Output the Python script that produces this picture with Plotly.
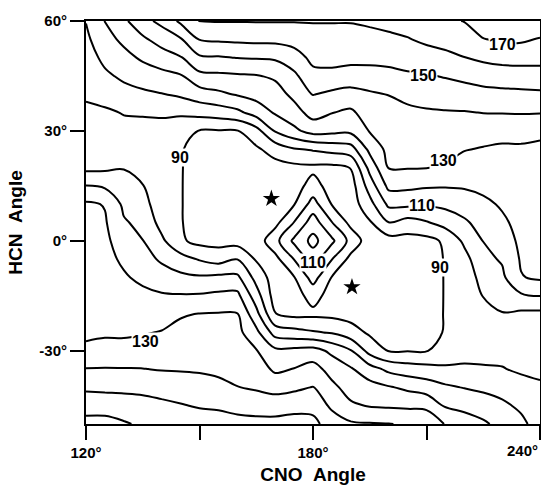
import plotly.graph_objects as go

# CNO angle (x, degrees) and HCN angle (y, degrees) grid
cno_angles = [120, 125, 130, 135, 140, 145, 150, 155, 160, 165, 170, 175, 180,
              185, 190, 195, 200, 205, 210, 215, 220, 225, 230, 235, 240]
hcn_angles = [-50, -45, -40, -35, -30, -25, -20, -15, -10, -5, 0,
              5, 10, 15, 20, 25, 30, 35, 40, 45, 50, 55, 60]

# energy values, one row per HCN angle (bottom to top)
row_m50 = [163.2, 163.7, 161, 158.5, 157, 155.5, 155.5, 154.1, 153, 152.7, 152.5, 152.9, 152.4, 145.8, 141.4, 140.7, 140.3, 139.1, 138.5, 129.3, 125.2, 121.6, 116.9, 112.4, 105.5]
row_m45 = [156, 155.4, 155, 154.2, 152.4, 150.7, 149.1, 148.6, 147.2, 146.3, 146.3, 147.6, 147.3, 137.9, 131.5, 129.4, 128.7, 128.1, 127.3, 119, 117.1, 114.8, 111.9, 108.2, 103]
row_m40 = [148.3, 147.9, 147.5, 146.9, 145.7, 144.7, 143.6, 142.1, 140.2, 138.7, 136.2, 137.8, 140.4, 132.4, 126, 123.5, 120.9, 118, 115.3, 111.5, 109.6, 108.1, 106.4, 103.7, 101]
row_m35 = [140.4, 140.6, 140.4, 140.2, 139.5, 139.3, 139, 138.3, 137.7, 134.7, 128.3, 130.3, 133.7, 126.2, 121, 114.2, 107.6, 104.8, 103.3, 102.3, 101.7, 101.2, 100.5, 98.5, 98.5]
row_m30 = [131.2, 132.4, 133.1, 134.4, 134.8, 135.9, 136.1, 135.7, 135.3, 130.6, 122.3, 122.9, 123.9, 117.7, 110.7, 96.3, 89.5, 89.5, 89.8, 91, 96, 96, 97, 95, 96]
row_m25 = [128.9, 129, 128.6, 129.3, 130.5, 132.5, 133.2, 133.1, 132.9, 122.7, 105.7, 103.3, 101, 99.2, 93.9, 88.5, 86.5, 86.5, 87.5, 90.5, 93, 93, 94, 93.5, 95]
row_m20 = [127.6, 127.6, 126.2, 125.9, 125.8, 129.2, 130.3, 130.6, 130.5, 113.3, 90.3, 87.5, 88, 87.5, 86.5, 85, 85, 85.5, 86.5, 90.5, 92, 94.5, 99.5, 98, 97.5]
row_m15 = [126.3, 126.1, 123.7, 122.6, 121.1, 120.8, 121.1, 122.2, 122.6, 104.5, 85.5, 86.5, 93.2, 86.5, 83, 83.5, 84.5, 85, 86, 90.5, 92, 100.5, 104, 108.5, 110.2]
row_m10 = [125, 124.7, 121.2, 117.7, 114.6, 112.3, 111.3, 112.3, 112.1, 96.5, 85, 89.5, 104.1, 89.5, 81, 83, 84.5, 85, 86, 90.5, 93.5, 104, 108, 119.5, 121.5]
row_m05 = [123.6, 123.2, 118.2, 113.8, 108.5, 103.9, 99.2, 96, 99.8, 89, 87, 100.3, 115.1, 100.3, 87, 84, 85.5, 86, 86.5, 90.5, 96.5, 107.5, 111, 121, 122.5]
row_000 = [123, 122, 115.3, 110.2, 102, 91.5, 87, 86.5, 86, 84.5, 96.7, 112.1, 123, 112.1, 96.7, 84.5, 86, 86.5, 87, 91.5, 102, 110.2, 115.3, 122, 123]
row_p05 = [122.5, 121, 111, 107.5, 96.5, 90.5, 86.5, 86, 85.5, 84, 87, 100.3, 115.1, 100.3, 87, 89, 99.8, 96, 99.2, 103.9, 108.5, 113.8, 118.2, 123.2, 123.6]
row_p10 = [121.5, 119.5, 108, 104, 93.5, 90.5, 86, 85, 84.5, 83, 81, 89.5, 104.1, 89.5, 85, 96.5, 112.1, 112.3, 111.3, 112.3, 114.6, 117.7, 121.2, 124.7, 125]
row_p15 = [110.2, 108.5, 104, 100.5, 92, 90.5, 86, 85, 84.5, 83.5, 83, 86.5, 93.2, 86.5, 85.5, 104.5, 122.6, 122.2, 121.1, 120.8, 121.1, 122.6, 123.7, 126.1, 126.3]
row_p20 = [97.5, 98, 99.5, 94.5, 92, 90.5, 86.5, 85.5, 85, 85, 86.5, 87.5, 88, 87.5, 90.3, 113.3, 130.5, 130.6, 130.3, 129.2, 125.8, 125.9, 126.2, 127.6, 127.6]
row_p25 = [95, 93.5, 94, 93, 93, 90.5, 87.5, 86.5, 86.5, 88.5, 93.9, 99.2, 101, 103.3, 105.7, 122.7, 132.9, 133.1, 133.2, 132.5, 130.5, 129.3, 128.6, 129, 128.9]
row_p30 = [96, 95, 97, 96, 96, 91, 89.8, 89.5, 89.5, 96.3, 110.7, 117.7, 123.9, 122.9, 122.3, 130.6, 135.3, 135.7, 136.1, 135.9, 134.8, 134.4, 133.1, 132.4, 131.2]
row_p35 = [98.5, 98.5, 100.5, 101.2, 101.7, 102.3, 103.3, 104.8, 107.6, 114.2, 121, 126.2, 133.7, 130.3, 128.3, 134.7, 137.7, 138.3, 139, 139.3, 139.5, 140.2, 140.4, 140.6, 140.4]
row_p40 = [101, 103.7, 106.4, 108.1, 109.6, 111.5, 115.3, 118, 120.9, 123.5, 126, 132.4, 140.4, 137.8, 136.2, 138.7, 140.2, 142.1, 143.6, 144.7, 145.7, 146.9, 147.5, 147.9, 148.3]
row_p45 = [103, 108.2, 111.9, 114.8, 117.1, 119, 127.3, 128.1, 128.7, 129.4, 131.5, 137.9, 147.3, 147.6, 146.3, 146.3, 147.2, 148.6, 149.1, 150.7, 152.4, 154.2, 155, 155.4, 156]
row_p50 = [105.5, 112.4, 116.9, 121.6, 125.2, 129.3, 138.5, 139.1, 140.3, 140.7, 141.4, 145.8, 152.4, 152.9, 152.5, 152.7, 153, 154.1, 155.5, 157.3, 159.8, 161.9, 163.4, 163.7, 163.2]
row_p55 = [108, 116.4, 122.2, 128.2, 134.2, 139, 150.5, 151.5, 152, 152.6, 152.6, 153.7, 156.4, 156.6, 156.2, 157, 157.9, 159.4, 162, 163.8, 165, 169.6, 171.5, 171.5, 169.3]
row_p60 = [110.3, 120.3, 128, 137, 142.5, 152, 160.5, 160.5, 160.5, 160.5, 160.5, 160.5, 160.5, 160.5, 160.5, 161.5, 163, 164.5, 167.5, 168.5, 170.3, 176, 178, 178, 178]

energy = [row_m50, row_m45, row_m40, row_m35, row_m30, row_m25, row_m20, row_m15,
          row_m10, row_m05, row_000, row_p05, row_p10, row_p15, row_p20, row_p25,
          row_p30, row_p35, row_p40, row_p45, row_p50, row_p55, row_p60]

# contour labels
label_text = ["90", "90", "110", "110", "130", "130", "150", "170"]
label_x = [144.8, 213.6, 180.0, 208.8, 214.4, 135.6, 209.3, 230.2]
label_y = [22.7, -7.4, -6.0, 9.6, 21.9, -27.4, 45.2, 53.7]

# starred minima
star_x = [169.0, 190.3]
star_y = [11.5, -12.6]

# ticks
x_tick_vals = [120, 150, 180, 210, 240]
x_tick_text = ["120°", "", "180°", "", "240°"]
y_tick_vals = [60, 30, 0, -30]
y_tick_text = ["60°", "30°", "0°", "-30°"]

x_title = "CNO\u00a0\u00a0Angle"
y_title = "HCN\u00a0\u00a0Angle"

FONT = "Liberation Sans"

fig = go.Figure()
fig.add_trace(go.Contour(
    x=cno_angles, y=hcn_angles, z=energy,
    contours=dict(coloring="lines", start=90, end=170, size=10, showlabels=False),
    line=dict(width=2, smoothing=1),
    colorscale=[[0, "black"], [1, "black"]],
    showscale=False, hoverinfo="skip",
))
fig.add_trace(go.Scatter(
    x=star_x, y=star_y, mode="markers",
    marker=dict(symbol="star", size=13, color="black"),
    hoverinfo="skip", showlegend=False,
))

for t, lx, ly in zip(label_text, label_x, label_y):
    fig.add_annotation(x=lx, y=ly, text="<b>" + t + "</b>", showarrow=False,
                       font=dict(family=FONT, size=16, color="black"),
                       bgcolor="white", borderpad=0)

# last x tick label placed right-aligned so it stays inside the page
fig.add_annotation(x=1, xref="paper", y=0, yref="paper",
                   text="<b>" + x_tick_text[-1] + "</b>",
                   showarrow=False, xanchor="right", yanchor="top", yshift=-16,
                   font=dict(family=FONT, size=15, color="black"))

fig.update_layout(
    width=541, height=495,
    margin=dict(l=86, r=1, t=21, b=71),
    paper_bgcolor="white", plot_bgcolor="white",
    showlegend=False,
    font=dict(family=FONT, color="black"),
    xaxis=dict(
        range=[120, 240], showgrid=False, zeroline=False, automargin=False,
        showline=True, linecolor="black", linewidth=2, mirror=True,
        ticks="outside", ticklen=14, tickwidth=2, tickcolor="black",
        tickvals=x_tick_vals, ticktext=x_tick_text[:-1] + [""],
        tickfont=dict(family=FONT, size=15, color="black", weight="bold"),
        title=dict(text="<b>" + x_title + "</b>", standoff=8,
                   font=dict(family=FONT, size=19, color="black")),
    ),
    yaxis=dict(
        range=[-50, 60], showgrid=False, zeroline=False, automargin=False,
        showline=True, linecolor="black", linewidth=2, mirror=True,
        ticks="outside", ticklen=14, tickwidth=2, tickcolor="black",
        tickvals=y_tick_vals, ticktext=y_tick_text,
        tickfont=dict(family=FONT, size=15, color="black", weight="bold"),
        title=dict(text="<b>" + y_title + "</b>", standoff=12,
                   font=dict(family=FONT, size=19, color="black")),
    ),
)

fig.write_html("out.html",
               config={"displayModeBar": False},
               post_script="document.body.style.margin='0px';"
                           "document.body.style.overflow='hidden';")
